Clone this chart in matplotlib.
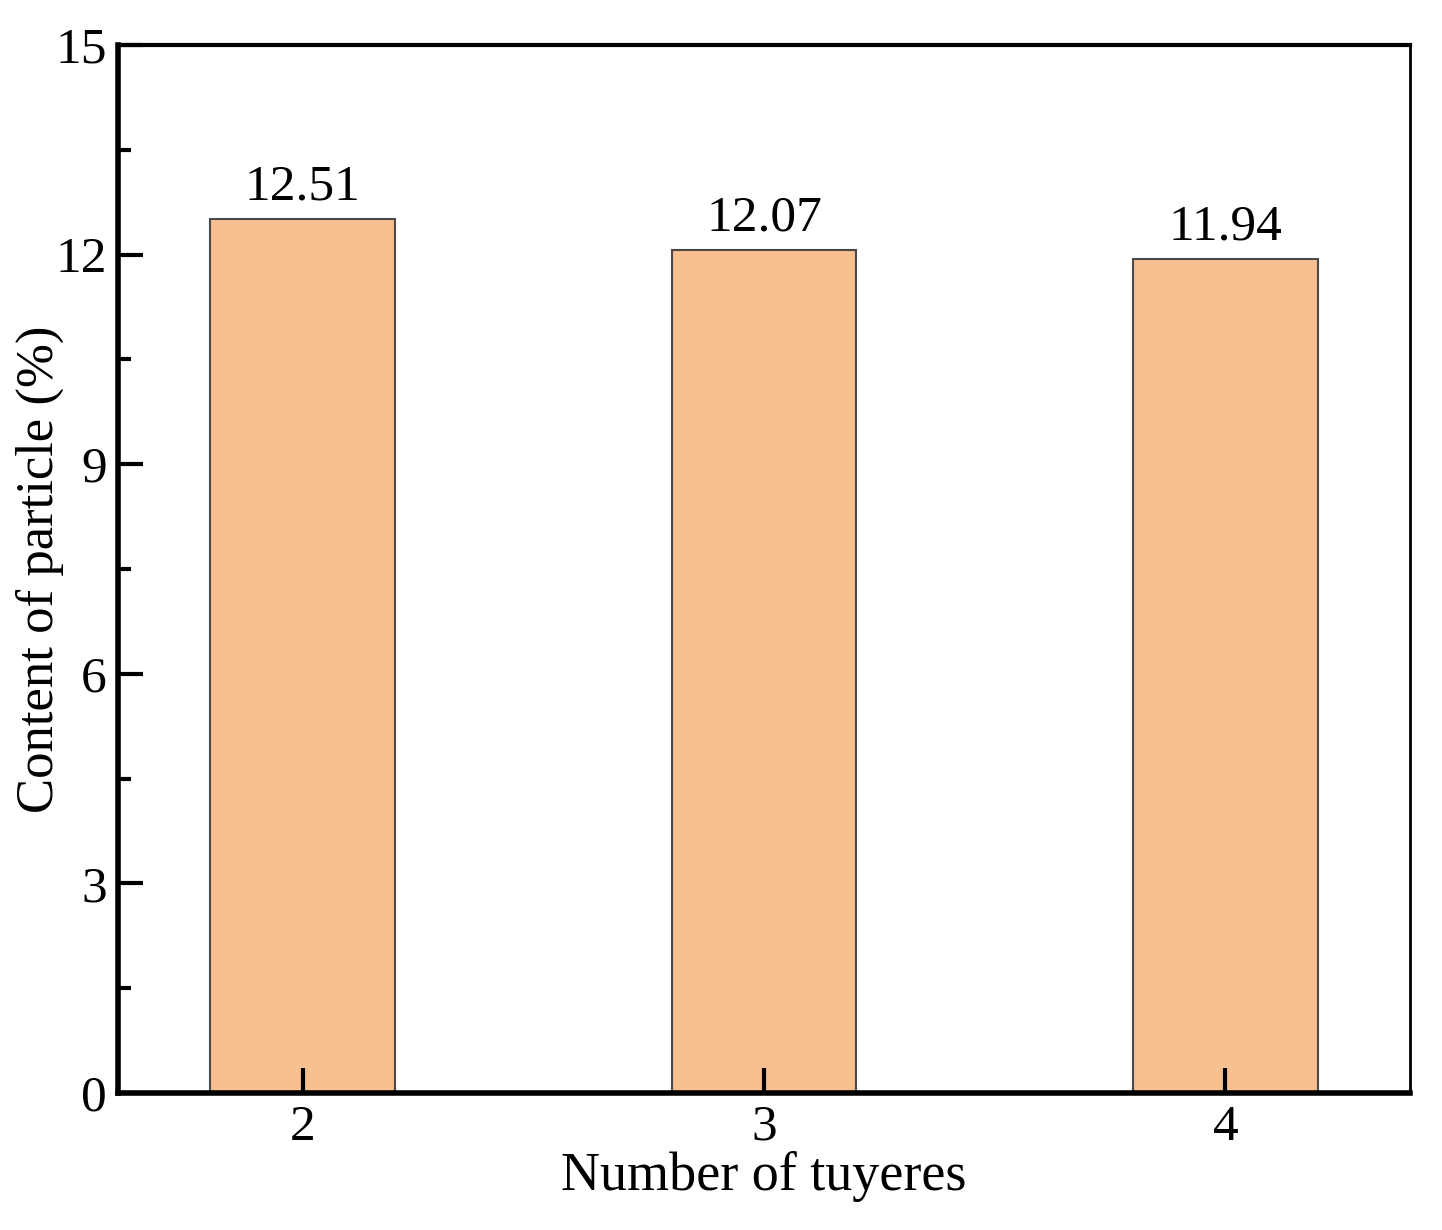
import numpy as np
import matplotlib.pyplot as plt
from matplotlib.ticker import MultipleLocator

# data
tuyeres = [2, 3, 4]
content = [12.51, 12.07, 11.94]
labels = ['12.51', '12.07', '11.94']

plt.rcParams['font.family'] = ['Liberation Serif', 'DejaVu Serif']

fig = plt.figure(figsize=(14.42, 12.3), dpi=100)
ax = fig.add_axes([0.0818, 0.1114, 0.896, 0.852])

bars = ax.bar(tuyeres, content, width=0.4, color='#F8BF91',
	edgecolor='#4a4a4a', linewidth=1.5, zorder=2)
for b, lab in zip(bars, labels):
	ax.text(b.get_x() + b.get_width() / 2, b.get_height() + 0.12, lab,
		ha='center', va='bottom', fontsize=37)

ax.set_axisbelow(False)
ax.set_xlim(1.6, 4.4)
ax.set_ylim(0, 15)
ax.set_xticks(tuyeres)
ax.yaxis.set_major_locator(MultipleLocator(3))
ax.yaxis.set_minor_locator(MultipleLocator(1.5))
ax.tick_params(axis='both', which='major', direction='in', length=18, width=3,
	labelsize=37)
ax.tick_params(axis='x', which='major', pad=8)
ax.tick_params(axis='y', which='major', pad=8)
ax.tick_params(axis='y', which='minor', direction='in', length=9, width=3)
ax.tick_params(top=False, right=False)

ax.spines['left'].set_linewidth(4)
ax.spines['bottom'].set_linewidth(4)
ax.spines['top'].set_linewidth(3)
ax.spines['right'].set_linewidth(2)

ax.set_xlabel('Number of tuyeres', fontsize=39, labelpad=0)
ax.set_ylabel('Content of particle (%)', fontsize=38)
ax.yaxis.set_label_coords(-0.042, 0.5)

fig.savefig('out.png', dpi=100)
